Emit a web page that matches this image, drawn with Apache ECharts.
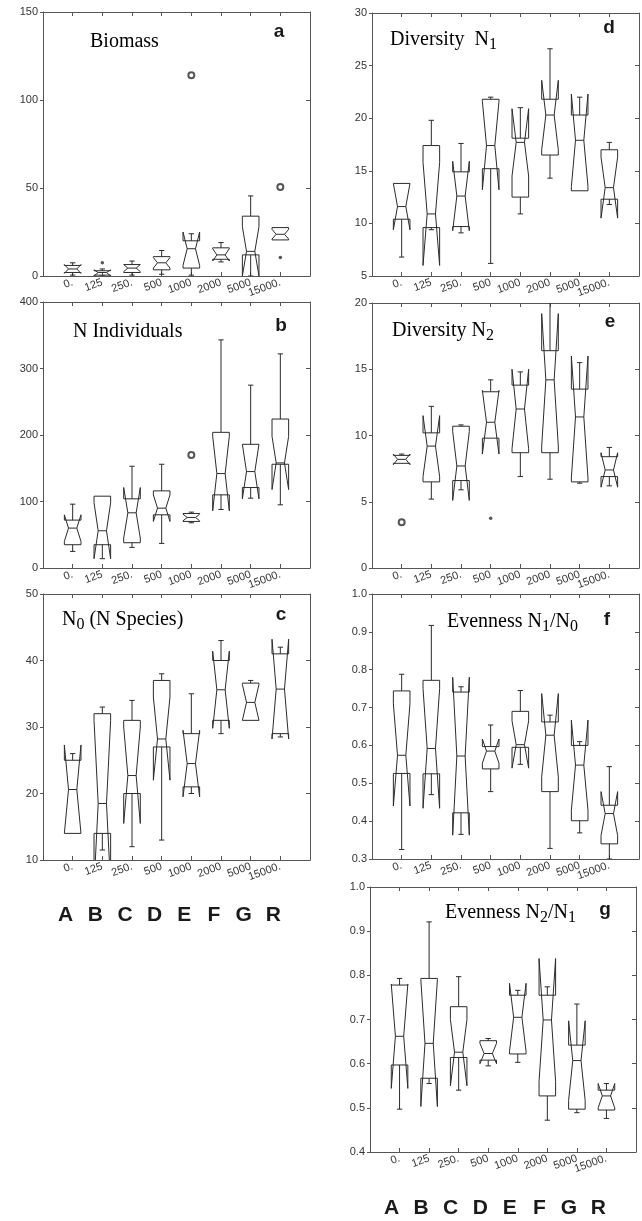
<!DOCTYPE html>
<html>
<head>
<meta charset="utf-8">
<script src="https://cdn.jsdelivr.net/npm/echarts@6/dist/echarts.min.js"></script>
<style>
  html, body { margin: 0; padding: 0; background: #fff; }
  #chart { width: 642px; height: 1221px; }
</style>
</head>
<body>
<div id="chart"></div>
<script>
// Sites and the dose labels under each panel
const groups = ['A', 'B', 'C', 'D', 'E', 'F', 'G', 'R'];
const doses = ['0.', '125', '250.', '500', '1000', '2000', '5000', '15000.'];

// Box statistics per site, in group order:
// [lower whisker, lower hinge, median, upper hinge, upper whisker, notch low, notch high]
const biomass = [
  [0.5, 2, 4, 6, 7.5, 1.5, 6.5],
  [0, 0.5, 2, 3, 4, 0, 3.5],
  [0.5, 2, 4.5, 6.5, 8.5, 2.5, 6.5],
  [1, 3.5, 7.5, 11, 14.5, 4.5, 10.5],
  [0.5, 4.5, 15.5, 20, 24, 6, 25],
  [8, 9.5, 12, 16, 19, 8.5, 15.5],
  [0, 12, 14, 34, 45.5, 0, 28],
  [20.5, 20.5, 23.7, 27.5, 27.5, 21, 26.5]
];
const biomassFar = [[5, 114], [8, 50.5]];
const biomassOut = [[2, 7.5], [8, 10.5]];

const individuals = [
  [25, 35, 60, 72, 96, 40, 80],
  [14, 35, 56, 108, 108, 14, 98],
  [31, 38, 83, 104, 153, 45, 121],
  [37, 80, 90, 116, 156, 70, 110],
  [68, 70, 76, 82, 84, 71, 81],
  [88, 110, 142, 204, 343, 86, 198],
  [105, 121, 145, 186, 275, 104, 186],
  [95, 156, 158, 224, 322, 118, 198]
];
const individualsFar = [[5, 170]];
const individualsOut = [];

const species = [
  [14, 14, 20.6, 25, 26, 14, 27.3],
  [11.5, 14, 18.5, 32, 33, 6, 31],
  [12, 20, 22.7, 31, 34, 15.5, 30],
  [13, 27, 28.2, 37, 38, 22, 34.5],
  [20, 21, 24.5, 29, 35, 19.5, 29.5],
  [29, 31, 35.6, 40, 43, 29.8, 41.4],
  [31, 31, 33.7, 36.6, 37, 31, 36.4],
  [28.5, 29, 35.7, 41, 42, 28.2, 43.2]
];
const speciesFar = [];
const speciesOut = [];

const diversityN1 = [
  [6.8, 10.4, 11.6, 13.8, 13.8, 9.4, 13.8],
  [9.4, 9.6, 10.9, 17.4, 19.8, 6, 15.8],
  [9.1, 9.7, 12.6, 14.9, 17.6, 9.3, 15.9],
  [6.2, 15.2, 17.4, 21.8, 22, 13.2, 21.6],
  [10.9, 12.5, 17.7, 18.1, 21, 14.5, 20.9],
  [14.3, 16.5, 20.3, 21.8, 26.6, 17, 23.6],
  [13.1, 13.1, 17.9, 20.3, 22, 13.5, 22.3],
  [11.8, 12.3, 13.4, 17, 17.7, 10.5, 16.3]
];
const diversityN1Far = [];
const diversityN1Out = [];

const diversityN2 = [
  [7.9, 7.9, 8.2, 8.5, 8.6, 7.8, 8.6],
  [5.2, 6.5, 9.2, 10.2, 12.2, 6.9, 11.5],
  [5.9, 6.6, 7.7, 10.7, 10.8, 5.1, 10.3],
  [9.8, 9.8, 11, 13.3, 14.2, 8.6, 13.4],
  [6.9, 8.7, 12, 13.8, 14.8, 9, 15],
  [6.7, 8.7, 14.2, 16.4, 20.5, 9.2, 19.2],
  [6.4, 6.5, 11.4, 13.5, 15.5, 6.8, 16],
  [6.2, 6.9, 7.4, 8.4, 9.1, 6.1, 8.7]
];
const diversityN2Far = [[1, 3.45]];
const diversityN2Out = [[4, 3.75]];

const evenness10 = [
  [0.325, 0.526, 0.574, 0.744, 0.788, 0.44, 0.71],
  [0.47, 0.525, 0.592, 0.772, 0.917, 0.434, 0.75],
  [0.365, 0.422, 0.572, 0.741, 0.755, 0.363, 0.78],
  [0.478, 0.538, 0.585, 0.597, 0.654, 0.553, 0.617],
  [0.55, 0.595, 0.602, 0.69, 0.745, 0.54, 0.665],
  [0.328, 0.478, 0.627, 0.662, 0.68, 0.517, 0.737],
  [0.369, 0.401, 0.548, 0.6, 0.61, 0.429, 0.667],
  [0.3, 0.34, 0.42, 0.442, 0.544, 0.362, 0.478]
];
const evenness10Far = [];
const evenness10Out = [];

const evenness21 = [
  [0.497, 0.597, 0.662, 0.778, 0.793, 0.544, 0.78],
  [0.555, 0.567, 0.646, 0.793, 0.921, 0.503, 0.79],
  [0.54, 0.614, 0.626, 0.729, 0.797, 0.55, 0.70],
  [0.595, 0.608, 0.623, 0.652, 0.657, 0.6, 0.646],
  [0.603, 0.622, 0.705, 0.755, 0.766, 0.628, 0.782],
  [0.472, 0.527, 0.699, 0.755, 0.774, 0.56, 0.838],
  [0.489, 0.497, 0.607, 0.642, 0.735, 0.517, 0.697],
  [0.476, 0.495, 0.527, 0.54, 0.555, 0.5, 0.555]
];
const evenness21Far = [];
const evenness21Out = [];

// Panel layout: grid rectangle, y range, title and panel letter
const panels = [
  { stats: biomass, far: biomassFar, out: biomassOut, grid: [43, 12, 267, 264], y: [0, 150, 50], dec: 0,
    title: '{m|Biomass}', tx: 90, ty: 42, letter: 'a', lx: 279, ly: 32 },
  { stats: individuals, far: individualsFar, out: individualsOut, grid: [43, 302, 267, 266], y: [0, 400, 100], dec: 0,
    title: '{m|N Individuals}', tx: 73, ty: 332, letter: 'b', lx: 281, ly: 326 },
  { stats: species, far: speciesFar, out: speciesOut, grid: [43, 594, 267, 266], y: [10, 50, 10], dec: 0,
    title: '{m|N}{s|0}{m| (N Species)}', tx: 62, ty: 620, letter: 'c', lx: 281, ly: 615 },
  { stats: diversityN1, far: diversityN1Far, out: diversityN1Out, grid: [372, 13, 267, 263], y: [5, 30, 5], dec: 0,
    title: '{m|Diversity  N}{s|1}', tx: 390, ty: 40, letter: 'd', lx: 609, ly: 28 },
  { stats: diversityN2, far: diversityN2Far, out: diversityN2Out, grid: [372, 303, 267, 265], y: [0, 20, 5], dec: 0,
    title: '{m|Diversity N}{s|2}', tx: 392, ty: 331, letter: 'e', lx: 610, ly: 322 },
  { stats: evenness10, far: evenness10Far, out: evenness10Out, grid: [372, 594, 267, 265], y: [0.3, 1.0, 0.1], dec: 1,
    title: '{m|Evenness N}{s|1}{m|/N}{s|0}', tx: 447, ty: 622, letter: 'f', lx: 607, ly: 620 },
  { stats: evenness21, far: evenness21Far, out: evenness21Out, grid: [370, 887, 266, 265], y: [0.4, 1.0, 0.1], dec: 1,
    title: '{m|Evenness N}{s|2}{m|/N}{s|1}', tx: 445, ty: 913, letter: 'g', lx: 605, ly: 910 }
];

const INK = '#2b2b2b';
const FRAME = '#555';
const LABEL_FONT = 'Liberation Sans';
const SERIF = 'Liberation Serif';

// Notched box: outline folds back past the hinges when the notch is wider than the box
function renderBox(params, api) {
  const x = api.value(0);
  const lo = api.value(1), q1 = api.value(2), md = api.value(3), q3 = api.value(4);
  const hi = api.value(5), nlo = api.value(6), nhi = api.value(7);
  const w = 0.28, k = 0.5, cap = 0.09;
  const P = (dx, y) => api.coord([x + dx, y]);
  const style = { stroke: INK, lineWidth: 1, fill: null };
  const seg = (a, b) => ({ type: 'line', shape: { x1: a[0], y1: a[1], x2: b[0], y2: b[1] }, style: style });
  const children = [
    { type: 'polygon', shape: { points: [
        P(-w, q1), P(-w, nlo), P(-w * k, md), P(-w, nhi), P(-w, q3),
        P(w, q3), P(w, nhi), P(w * k, md), P(w, nlo), P(w, q1)
      ] }, style: style },
    seg(P(-w * k, md), P(w * k, md))
  ];
  if (hi > q3) {
    children.push(seg(P(0, q3), P(0, hi)));
    children.push(seg(P(-cap, hi), P(cap, hi)));
  }
  if (lo < q1) {
    children.push(seg(P(0, q1), P(0, lo)));
    children.push(seg(P(-cap, lo), P(cap, lo)));
  }
  return { type: 'group', children: children };
}

const grids = [], xAxes = [], yAxes = [], series = [];
panels.forEach((p, i) => {
  grids.push({ left: p.grid[0], top: p.grid[1], width: p.grid[2], height: p.grid[3], containLabel: false });
  const xBase = {
    gridIndex: i, type: 'value', min: 0, max: 9, interval: 1,
    axisLine: { show: true, onZero: false, lineStyle: { color: FRAME, width: 1 } },
    axisTick: { show: true, inside: true, length: 4, lineStyle: { color: FRAME } },
    splitLine: { show: false }
  };
  xAxes.push(Object.assign({}, xBase, {
    position: 'bottom',
    axisLabel: {
      show: true, rotate: 20, margin: 6, fontSize: 11, color: '#333', fontFamily: LABEL_FONT,
      formatter: v => (v >= 1 && v <= 8) ? doses[v - 1] : ''
    }
  }));
  xAxes.push(Object.assign({}, xBase, { position: 'top', axisLabel: { show: false } }));
  const yBase = {
    gridIndex: i, type: 'value', min: p.y[0], max: p.y[1], interval: p.y[2],
    axisLine: { show: true, onZero: false, lineStyle: { color: FRAME, width: 1 } },
    splitLine: { show: false }
  };
  yAxes.push(Object.assign({}, yBase, {
    position: 'left',
    axisTick: { show: true, inside: false, length: 3, lineStyle: { color: FRAME } },
    axisLabel: { show: true, margin: 5, fontSize: 11, color: '#333', fontFamily: LABEL_FONT,
      formatter: v => v.toFixed(p.dec) }
  }));
  yAxes.push(Object.assign({}, yBase, {
    position: 'right',
    axisTick: { show: true, inside: true, length: 4, lineStyle: { color: FRAME } },
    axisLabel: { show: false }
  }));
  series.push({
    type: 'custom', xAxisIndex: 2 * i, yAxisIndex: 2 * i, clip: true,
    renderItem: renderBox,
    data: p.stats.map((s, j) => [j + 1].concat(s)),
    silent: true
  });
  series.push({
    type: 'scatter', xAxisIndex: 2 * i, yAxisIndex: 2 * i, symbol: 'emptyCircle', symbolSize: 6,
    itemStyle: { color: INK, borderColor: INK, borderWidth: 1 }, data: p.far, silent: true
  });
  series.push({
    type: 'scatter', xAxisIndex: 2 * i, yAxisIndex: 2 * i, symbol: 'circle', symbolSize: 3.5,
    itemStyle: { color: INK }, data: p.out, silent: true
  });
});

const chart = echarts.init(document.getElementById('chart'), null, { renderer: 'canvas' });
chart.setOption({
  animation: false,
  backgroundColor: '#fff',
  grid: grids, xAxis: xAxes, yAxis: yAxes, series: series
});

// Titles, panel letters and the site letters under each column
const graphics = [];
const rich = {
  m: { fontFamily: SERIF, fontSize: 20, lineHeight: 26, color: '#1a1a1a' },
  s: { fontFamily: SERIF, fontSize: 16, lineHeight: 16, color: '#1a1a1a', verticalAlign: 'bottom' }
};
panels.forEach(p => {
  graphics.push({ type: 'text', x: p.tx, y: p.ty, silent: true,
    style: { text: p.title, rich: rich, verticalAlign: 'middle', align: 'left' } });
  graphics.push({ type: 'text', x: p.lx, y: p.ly, silent: true,
    style: { text: p.letter, font: 'bold 19px "Liberation Sans"', fill: '#1a1a1a', align: 'center', verticalAlign: 'middle' } });
});
[[2, 915, -7], [6, 1208, -8]].forEach(([gi, yPix, dx]) => {
  groups.forEach((g, j) => {
    const pt = chart.convertToPixel({ gridIndex: gi }, [j + 1, panels[gi].y[0]]);
    graphics.push({ type: 'text', x: pt[0] + dx, y: yPix, silent: true,
      style: { text: g, font: 'bold 21px "Liberation Sans"', fill: '#1a1a1a', align: 'center', verticalAlign: 'middle' } });
  });
});
chart.setOption({ graphic: graphics });
</script>
</body>
</html>
